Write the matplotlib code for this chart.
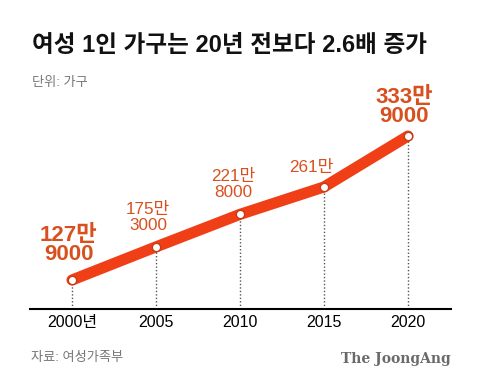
import matplotlib.pyplot as plt

plt.rcParams['font.family'] = ['Liberation Sans', 'Noto Sans CJK KR', 'DejaVu Sans']

years = [2000, 2005, 2010, 2015, 2020]
households = [1279000, 1753000, 2218000, 2610000, 3339000]
labels = ['127만\n9000', '175만\n3000', '221만\n8000', '261만', '333만\n9000']
tick_labels = ['2000년', '2005', '2010', '2015', '2020']

line_col = '#f03f17'
text_col = '#d9501f'

fig = plt.figure(figsize=(4.8, 3.87), dpi=100)
W, H = 480, 387
ax = fig.add_axes([30/W, 1-309/H, 421/W, 209/H])
ax.set_xlim(1997.5, 2022.56)
ax.set_ylim(864000, 3854000)

# dotted drop lines
for x, y in zip(years, households):
    ax.plot([x, x], [864000, y], ls=(0, (1, 1.5)), color='#555555', lw=1, zorder=1)

ax.plot(years, households, color=line_col, lw=8, solid_capstyle='round', zorder=2)
ax.plot(years, households, ls='none', marker='o', ms=6, mfc='white', mec='#c83a12',
        mew=1, zorder=3)

# value labels
offs = [(-3, 35), (-8, 29), (-7, 30), (-13, 19), (-4, 29)]
bold = [True, False, False, False, True]
for x, y, lab, o, b in zip(years, households, labels, offs, bold):
    ax.annotate(lab, (x, y), xytext=o, textcoords='offset pixels', ha='center',
                va='center', color=text_col, fontsize=16 if b else 12.3,
                fontweight='bold' if b else 'normal', linespacing=0.9 if b else 1.1)

for s in ['top', 'right', 'left']:
    ax.spines[s].set_visible(False)
ax.spines['bottom'].set_linewidth(1.5)
ax.set_yticks([])
ax.set_xticks(years)
ax.set_xticklabels(tick_labels, fontsize=11.5)
ax.tick_params(axis='x', length=0, pad=4)

fig.text(32/W, 1-45/H, '여성 1인 가구는 20년 전보다 2.6배 증가', fontsize=17,
         fontweight='bold', va='center', ha='left', color='#111111')
fig.text(32/W, 1-83/H, '단위: 가구', fontsize=9.5, va='center', ha='left', color='#777777')
fig.text(31/W, 1-358/H, '자료: 여성가족부', fontsize=9.5, va='center', ha='left', color='#777777')
fig.text(451/W, 1-359/H, 'The JoongAng', fontsize=10, fontweight='bold',
         family=['DejaVu Serif'], va='center', ha='right', color='#6a6a6a')

fig.savefig('out.png', dpi=100)
